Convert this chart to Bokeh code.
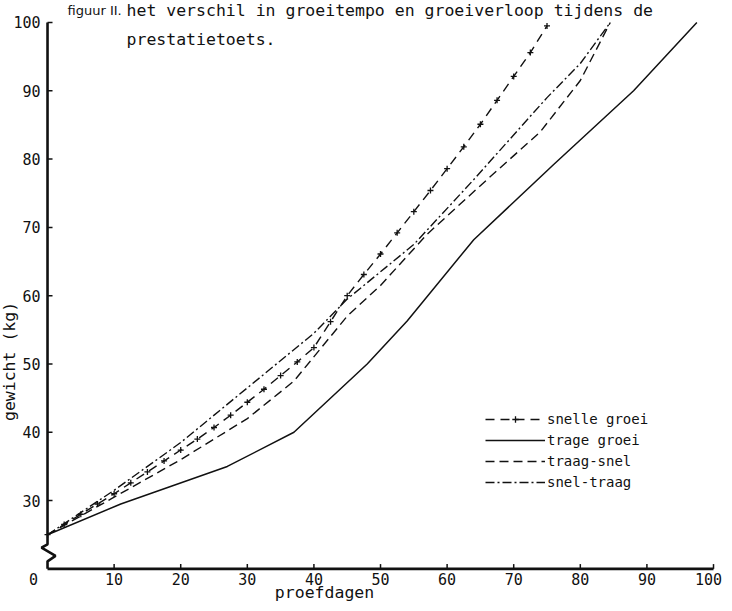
from bokeh.plotting import figure
from bokeh.models import Range1d, Label, Legend, LegendItem
from bokeh.embed import file_html
from bokeh.resources import INLINE
from bokeh.core.properties import value
import math

FONT = "DejaVu Sans Mono"
INK = "#111111"

# ---- data ----
x_ticks = [10, 20, 30, 40, 50, 60, 70, 80, 90, 100]
x_tick_labels = [str(t) for t in x_ticks]
y_ticks = [30, 40, 50, 60, 70, 80, 90, 100]
y_tick_labels = [str(t) for t in y_ticks]
axis_origin_label = "0"
axis_base = 20          # kg value at which the (broken) y axis meets the x axis

snelle_x = [0, 2.5, 5, 7.5, 10, 12.5, 15, 17.5, 20, 22.5, 25, 27.5, 30, 32.5, 35, 37.5,
            40, 42.5, 45, 47.5, 50, 52.5, 55, 57.5, 60, 62.5, 65, 67.5, 70, 72.5, 75]
snelle_y = [25, 26.5, 28, 29.5, 31, 32.6, 34.2, 35.8, 37.4, 39, 40.7, 42.5, 44.4, 46.3, 48.3, 50.3,
            52.4, 56.2, 60, 63.1, 66.1, 69.2, 72.3, 75.4, 78.6, 81.8, 85.1, 88.6, 92.1, 95.6, 99.5]

trage_x = [0, 11, 27, 37, 48, 54, 64, 76, 88, 97.5]
trage_y = [25, 29.5, 35, 40, 50, 56.3, 68.2, 79.2, 90, 100]

traag_snel_x = [0, 10, 20, 30, 37, 45, 50, 57, 66, 74, 80, 84.5]
traag_snel_y = [25, 30.5, 36, 42, 47.5, 57, 61.5, 69, 77, 84, 91.5, 100]

snel_traag_x = [0, 10, 20, 30, 40, 45, 55, 64, 75, 80, 84.5]
snel_traag_y = [25, 31.5, 38.5, 46.5, 54.5, 59.5, 67.5, 77, 89, 94, 100]

# ---- figure: the frame covers the whole canvas so that no text is clipped ----
p = figure(frame_width=724, frame_height=603,
           x_range=Range1d(-7.06, 101.65), y_range=Range1d(14.93, 103.22),
           output_backend="svg", toolbar_location=None,
           x_axis_type=None, y_axis_type=None,
           min_border_left=0, min_border_right=0, min_border_top=0, min_border_bottom=0)
p.grid.visible = False
p.outline_line_color = None

# hand-drawn axes (with the zig-zag break on the y axis)
brk_x = [0, 0, -0.9, 1.2, 0, 0]
brk_y = [y_ticks[-1], 23.6, 23.1, 21.9, 21.1, axis_base]
p.line(brk_x, brk_y, line_color=INK, line_width=2.6)
p.line([0, x_ticks[-1]], [axis_base, axis_base], line_color=INK, line_width=2.6)
p.segment(x0=x_ticks, y0=[axis_base] * len(x_ticks), x1=x_ticks, y1=[axis_base + 0.7] * len(x_ticks),
          line_color=INK, line_width=1.5)
p.segment(x0=[0] * len(y_ticks), y0=y_ticks, x1=[0.75] * len(y_ticks), y1=y_ticks,
          line_color=INK, line_width=1.5)

# tick labels (the last one is nudged left so it stays inside the page)
x_label_nudge = [0] * (len(x_ticks) - 1) + [-5]
p.text(x=x_ticks, y=[axis_base] * len(x_ticks), text=x_tick_labels, y_offset=10,
       x_offset=x_label_nudge,
       text_font=value(FONT), text_font_size="15px", text_align="center",
       text_baseline="middle", text_color=INK)
p.text(x=[0] * len(y_ticks), y=y_ticks, text=y_tick_labels, x_offset=-7,
       text_font=value(FONT), text_font_size="15px", text_align="right",
       text_baseline="middle", text_color=INK)

# series
r_sn_l = p.line(snelle_x, snelle_y, line_color=INK, line_width=1.4, line_dash="9 6")
r_sn_m = p.scatter(snelle_x, snelle_y, marker="cross", size=6, line_color=INK, line_width=1.3)
r_tr = p.line(trage_x, trage_y, line_color=INK, line_width=1.5)
r_ts = p.line(traag_snel_x, traag_snel_y, line_color=INK, line_width=1.4, line_dash="9 5")
r_st = p.line(snel_traag_x, snel_traag_y, line_color=INK, line_width=1.4, line_dash="9 3 2 3")

legend = Legend(items=[
    LegendItem(label="snelle groei", renderers=[r_sn_l, r_sn_m]),
    LegendItem(label="trage groei", renderers=[r_tr]),
    LegendItem(label="traag-snel", renderers=[r_ts]),
    LegendItem(label="snel-traag", renderers=[r_st]),
], location=(485, 113), orientation="vertical")
legend.border_line_color = None
legend.background_fill_alpha = 0
legend.padding = 0
legend.margin = 0
legend.spacing = 5
legend.glyph_width = 60
legend.glyph_height = 16
legend.label_height = 16
legend.label_standoff = 2
legend.label_text_font = FONT
legend.label_text_font_size = "14px"
legend.label_text_color = INK
p.add_layout(legend, "center")

# texts
def lab(text, x, y, xo, yo, size="16.5px", align="left", angle=0.0, font=FONT):
    p.add_layout(Label(x=x, y=y, x_offset=xo, y_offset=yo, text=text, text_font=font,
                       text_font_size=size, text_align=align, text_baseline="middle",
                       text_color=INK, angle=angle))

lab("figuur II.", 0, 100, 20, 12, size="13px", font="DejaVu Sans")
lab("het verschil in groeitempo en groeiverloop  tijdens de", 0, 100, 79, 12)
lab("prestatietoets.", 0, 100, 79, -17)
lab("gewicht  (kg)", 0, 50, -38, 7.5, align="center", angle=math.pi / 2)
lab("proefdagen", 0, axis_base, 277, -23.6, align="center")
lab(axis_origin_label, 0, axis_base, -14, -10, size="15px", align="center")

open("out.html", "w").write(file_html(p, INLINE))
